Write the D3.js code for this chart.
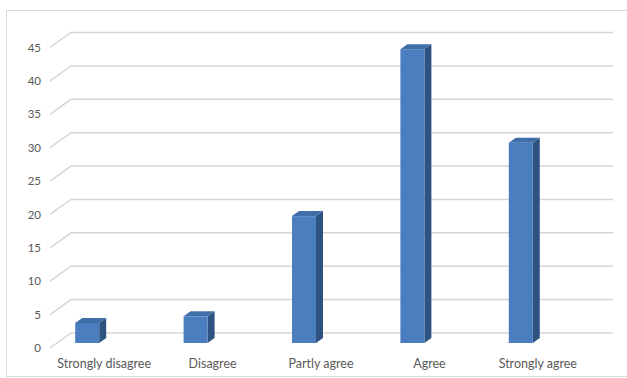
<!DOCTYPE html>
<html>
<head>
<meta charset="utf-8">
<script src="https://cdn.jsdelivr.net/npm/d3@7"></script>
<style>
  html, body { margin: 0; padding: 0; background: #fff; }
  svg { display: block; }
  text { font-family: Lato, "Open Sans", sans-serif; fill: #595959; }
</style>
</head>
<body>
<svg id="chart" width="627" height="378"></svg>
<script>
// Survey responses per answer category
const categories = ["Strongly disagree", "Disagree", "Partly agree", "Agree", "Strongly agree"];
const counts = [3, 4, 19, 44, 30];
const yTicks = [0, 5, 10, 15, 20, 25, 30, 35, 40, 45];

const svg = d3.select("#chart");
const W = 627, H = 378;

// chart frame
svg.append("rect")
  .attr("x", 6.5).attr("y", 10.5)
  .attr("width", W + 10).attr("height", H - 12)
  .attr("fill", "#fff").attr("stroke", "#d9d9d9").attr("stroke-width", 1);

// oblique depth of the floor / back wall
const depthX = 21, depthY = -15;

// front-plane scales
const x = d3.scaleBand().domain(categories).range([50, 592]).padding(0);
const y = d3.scaleLinear().domain([0, 45]).range([348, 47.5]);

// gridlines: diagonal on the side wall, horizontal on the back wall
const grid = svg.append("g").attr("stroke", "#d6d6d6").attr("stroke-width", 1.5).attr("fill", "none");
grid.selectAll("path.g").data(yTicks).join("path")
  .attr("class", "g")
  .attr("d", v => `M${x.range()[0]},${y(v)} L${x.range()[0] + depthX},${y(v) + depthY} L${x.range()[1] + depthX},${y(v) + depthY}`);

// value axis labels
const yAxis = d3.axisLeft(y).tickValues(yTicks).tickSize(0).tickPadding(0);
const ya = svg.append("g").attr("transform", "translate(41,0)").call(yAxis);
ya.select(".domain").remove();
ya.selectAll("text").attr("font-size", 11.5).attr("fill", "#6a6a6a")
  .style("font-family", "Lato, 'Open Sans', sans-serif");

// category labels
const xAxis = d3.axisBottom(x).tickSize(0).tickPadding(0);
const xa = svg.append("g").attr("transform", "translate(0,359)").call(xAxis);
xa.select(".domain").remove();
xa.selectAll("text").attr("font-size", 12.5).attr("fill", "#6a6a6a")
  .style("font-family", "Lato, 'Open Sans', sans-serif");

// 3D columns: front face, side face, top face
const barW = 24, sideX = 7, sideY = -5, baseShift = -5, barOffset = -29;
const bars = svg.append("g").selectAll("g.bar").data(categories.map((c, i) => ({c, v: counts[i]})))
  .join("g").attr("class", "bar");

bars.each(function(d) {
  const g = d3.select(this);
  const x0 = x(d.c) + x.bandwidth() / 2 + barOffset;
  const x1 = x0 + barW;
  const yb = y(0) + baseShift;
  const yt = y(d.v) + baseShift;
  // side
  g.append("path")
    .attr("d", `M${x1},${yb} L${x1},${yt} L${x1 + sideX},${yt + sideY} L${x1 + sideX},${yb + sideY} Z`)
    .attr("fill", "#2f5380");
  // top
  g.append("path")
    .attr("d", `M${x0},${yt} L${x1},${yt} L${x1 + sideX},${yt + sideY} L${x0 + sideX},${yt + sideY} Z`)
    .attr("fill", "#3f6ea8");
  // front
  g.append("rect")
    .attr("x", x0).attr("y", yt)
    .attr("width", barW).attr("height", yb - yt)
    .attr("fill", "#4a7ebe");
});
</script>
</body>
</html>
